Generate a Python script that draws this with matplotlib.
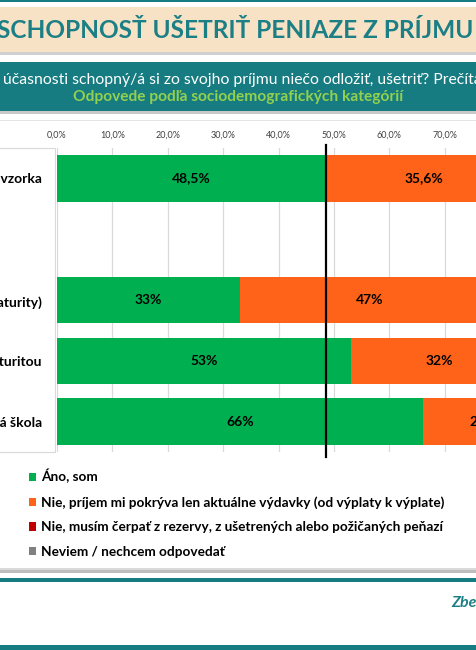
import numpy as np
import matplotlib
matplotlib.use('Agg')
import matplotlib.pyplot as plt
from matplotlib.patches import Rectangle

plt.rcParams['font.family'] = ['Lato', 'DejaVu Sans']

# data
kategorie = ['Celá vzorka', 'ZŠ (bez maturity)', 'SŠ s maturitou', 'Vysoká škola']
ano = [48.5, 33, 53, 66]
len_vydavky = [35.6, 47, 32, 22]
rezervy = [11.4, 15, 11, 8]
neviem = [4.5, 5, 4, 4]
popisky = [
    ['48,5%', '33%', '53%', '66%'],
    ['35,6%', '47%', '32%', '22%'],
    ['11,4%', '15%', '11%', '8%'],
    ['4,5%', '5%', '4%', '4%'],
]
priemer = 48.5
odpovede = ['Áno, som',
            'Nie, príjem mi pokrýva len aktuálne výdavky (od výplaty k výplate)',
            'Nie, musím čerpať z rezervy, z ušetrených alebo požičaných peňazí',
            'Neviem / nechcem odpovedať']
farby = ['#00B050', '#FF6319', '#C00000', '#808080']
teal = '#167C81'

W, H = 476, 650
fig = plt.figure(figsize=(W / 100, H / 100), dpi=100)
fig.patch.set_facecolor('white')


def obdlznik(x0, y0, x1, y1, farba, z=-1):
    # obdlznik v pixeloch (y od vrchu)
    r = Rectangle((x0 / W, 1 - y1 / H), (x1 - x0) / W, (y1 - y0) / H,
                  transform=fig.transFigure, facecolor=farba, edgecolor='none', zorder=z)
    fig.add_artist(r)
    return r


# hlavicka
obdlznik(0, 0, W, 2, teal)
obdlznik(0, 52, W, 55, '#D0D0D0')
obdlznik(0, 7, W, 52, '#F7E2C6')
fig.text(-3 / W, 1 - 30 / H, 'SCHOPNOSŤ UŠETRIŤ PENIAZE Z PRÍJMU', color='#1B7F85',
         fontsize=17.6, fontweight='bold', ha='left', va='center')

obdlznik(0, 111, W, 114, '#C8C8C8')
obdlznik(0, 62, W, 111, teal)
fig.text(3 / W, 1 - 80 / H, 'účasnosti schopný/á si zo svojho príjmu niečo odložiť, ušetriť? Prečítam Vám',
         color='white', fontsize=11.3, ha='left', va='center')
fig.text(238 / W, 1 - 97 / H, 'Odpovede podľa sociodemografických kategórií',
         color='#92D050', fontsize=11.2, fontweight='bold', ha='center', va='center')
obdlznik(0, 120, W, 121, '#E4E4E4')

# panel s kategoriami
panel = Rectangle((-5 / W, 1 - 452 / H), 60 / W, 304 / H, transform=fig.transFigure,
                  facecolor='white', edgecolor='#D9D9D9', lw=0.8, zorder=-1)
fig.add_artist(panel)

# graf
ax = fig.add_axes([57 / W, 1 - 452 / H, 554 / W, 304 / H])
pozicie = [0, 2, 3, 4]
vlavo = np.zeros(len(kategorie))
for hodnoty, farba, nazov, text in zip([ano, len_vydavky, rezervy, neviem], farby, odpovede, popisky):
    bary = ax.barh(pozicie, hodnoty, left=vlavo, height=0.76, color=farba, label=nazov)
    ax.bar_label(bary, labels=text, label_type='center', fontsize=10, fontweight='bold', color='black')
    vlavo += np.array(hodnoty)

ax.axvline(priemer, ymin=-0.016, ymax=1.01, color='black', lw=1.6, clip_on=False, zorder=5)

ax.set_xlim(0, 100)
ax.set_ylim(4.5, -0.5)
ax.set_xticks(np.arange(0, 101, 10))
ax.set_xticklabels([f'{v:.1f}'.replace('.', ',') + '%' for v in np.arange(0, 101, 10)])
ax.xaxis.tick_top()
ax.xaxis.grid(True, color='#D9D9D9', lw=0.9)
ax.set_axisbelow(True)
ax.tick_params(axis='x', length=0, pad=6, labelsize=6.5, labelcolor='#404040')
ax.set_yticks(pozicie)
ax.set_yticklabels(kategorie, fontsize=10, fontweight='bold')
ax.tick_params(axis='y', length=0, pad=11)
for s in ax.spines.values():
    s.set_visible(False)

# legenda
fig.legend(loc='upper left', bbox_to_anchor=(29 / W, 1 - 469 / H), frameon=False,
           prop={'size': 9.8, 'weight': 'bold'}, handlelength=0.55, handleheight=0.55,
           handletextpad=0.35, labelspacing=0.93, borderpad=0, borderaxespad=0)

# pata
obdlznik(0, 570, W, 573, '#BDBDBD')
obdlznik(0, 568, W, 570, '#DADADA')
obdlznik(0, 578, W, 582, teal)
fig.text(451 / W, 1 - 603 / H, 'Zber dát', color='#1B7F85', fontsize=11.5,
         fontweight='bold', fontstyle='italic', ha='left', va='center')
obdlznik(0, 645, W, H, teal)

fig.savefig('out.png', dpi=100)
